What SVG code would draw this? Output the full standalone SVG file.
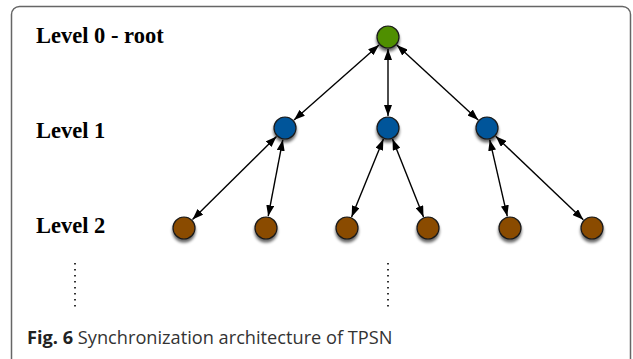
<svg xmlns="http://www.w3.org/2000/svg" width="633" height="359" viewBox="0 0 633 359">
<style>
.lvl{font-family:"Liberation Serif","Times New Roman",serif;font-weight:bold;font-size:22.5px;fill:#000}
.cap{font-family:"Open Sans","Noto Sans",sans-serif;font-size:18.2px;fill:#333}
.node{stroke:#1a1a1a;stroke-width:1.2;filter:url(#sh)}
.g{fill:#4f8f00}.b{fill:#00549a}.r{fill:#8a4b00}
.edge{stroke:#000;stroke-width:1.4;fill:none;marker-start:url(#ah);marker-end:url(#ah)}
.dot{stroke:#000;stroke-width:1.6;stroke-dasharray:1.6 4.4;fill:none}
</style>
<defs>
<marker id="ah" markerUnits="userSpaceOnUse" markerWidth="11" markerHeight="8" refX="11" refY="4" orient="auto-start-reverse" viewBox="0 0 11 8">
<path d="M0,0 L11,4 L0,8 z" fill="#000"/>
</marker>
<filter id="sh" x="-50%" y="-50%" width="200%" height="220%">
<feGaussianBlur in="SourceAlpha" stdDeviation="1.8"/>
<feOffset dx="0" dy="3" result="o"/>
<feComponentTransfer><feFuncA type="linear" slope="0.6"/></feComponentTransfer>
<feMerge><feMergeNode/><feMergeNode in="SourceGraphic"/></feMerge>
</filter>
</defs>
<rect x="11.5" y="6.5" width="619" height="420" rx="8" fill="#fff" stroke="#666" stroke-width="1.5"/>
<text class="lvl" x="36" y="43">Level 0 - root</text>
<text class="lvl" x="36" y="138">Level 1</text>
<text class="lvl" x="36" y="233">Level 2</text>
<g id="connectors">
<line class="edge" x1="379" y1="44.9" x2="294" y2="120.1"/>
<line class="edge" x1="388" y1="49" x2="388" y2="116"/>
<line class="edge" x1="396.8" y1="45.1" x2="478.2" y2="119.9"/>
<line class="edge" x1="276.5" y1="136.4" x2="192.5" y2="219.6"/>
<line class="edge" x1="282.8" y1="139.8" x2="268.2" y2="216.2"/>
<line class="edge" x1="383.4" y1="139.1" x2="351.6" y2="216.9"/>
<line class="edge" x1="392.5" y1="139.1" x2="423.5" y2="216.9"/>
<line class="edge" x1="489.7" y1="139.7" x2="507.3" y2="216.3"/>
<line class="edge" x1="495.7" y1="136.3" x2="583.3" y2="219.7"/>
</g>
<g id="root"><circle class="node g" cx="388" cy="37" r="11"/></g>
<g id="l1a"><circle class="node b" cx="285" cy="128" r="11"/></g>
<g id="l1b"><circle class="node b" cx="388" cy="128" r="11"/></g>
<g id="l1c"><circle class="node b" cx="487" cy="128" r="11"/></g>
<g id="l2a"><circle class="node r" cx="184" cy="228" r="11"/></g>
<g id="l2b"><circle class="node r" cx="266" cy="228" r="11"/></g>
<g id="l2c"><circle class="node r" cx="347" cy="228" r="11"/></g>
<g id="l2d"><circle class="node r" cx="428" cy="228" r="11"/></g>
<g id="l2e"><circle class="node r" cx="510" cy="228" r="11"/></g>
<g id="l2f"><circle class="node r" cx="592" cy="228" r="11"/></g>
<line class="dot" x1="75" y1="263" x2="75" y2="311"/>
<line class="dot" x1="388" y1="263" x2="388" y2="311"/>
<text class="cap" x="27" y="344"><tspan font-weight="bold" fill="#222">Fig. 6</tspan> Synchronization architecture of TPSN</text>
</svg>
